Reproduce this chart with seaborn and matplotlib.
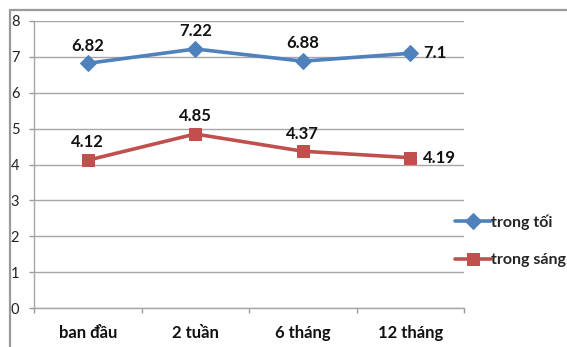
import matplotlib
matplotlib.use("Agg")
import matplotlib.pyplot as plt
from matplotlib.patches import Rectangle
import seaborn as sns
import pandas as pd

categories = ["ban đầu", "2 tuần", "6 tháng", "12 tháng"]
series_names = ["trong tối", "trong sáng"]
dark_values = [6.82, 7.22, 6.88, 7.1]
light_values = [4.12, 4.85, 4.37, 4.19]
y_ticks = [0, 1, 2, 3, 4, 5, 6, 7, 8]

colors = {"trong tối": "#4F81BD", "trong sáng": "#C0504D"}
markers = {"trong tối": "D", "trong sáng": "s"}

df = pd.DataFrame({
    "period": categories * 2,
    "value": dark_values + light_values,
    "series": [series_names[0]] * 4 + [series_names[1]] * 4,
})

sns.set_theme(style="white")
plt.rcParams["font.family"] = ["Lato", "DejaVu Sans"]

W, H = 567, 347
fig = plt.figure(figsize=(W / 100, H / 100), dpi=100)
ax = fig.add_axes([34 / W, 1 - 308 / H, (464 - 34) / W, (308 - 21) / H])

# outer chart frame
fig.patches.append(Rectangle((10 / W, -0.05), 1.1, 1 - 10 / H + 0.05,
                             transform=fig.transFigure, fill=False,
                             edgecolor="#9a9a9a", linewidth=1.6, zorder=0))

for name in series_names:
    sub = df[df["series"] == name]
    sns.lineplot(data=sub, x="period", y="value", ax=ax, color=colors[name],
                 marker=markers[name], markersize=8 if name == series_names[0] else 8.5,
                 markeredgecolor=colors[name], linewidth=2.6, label=name,
                 sort=False, zorder=3)

ax.set_xlim(-0.5, len(categories) - 0.5)
ax.set_ylim(0, 8)
ax.set_yticks(y_ticks)
ax.set_yticklabels([str(t) for t in y_ticks], fontsize=10.5, color="#222222")
ax.tick_params(axis="y", which="major", pad=7, length=3.6, color="#9a9a9a", width=1, left=True)

ax.set_xticks(range(len(categories)))
ax.set_xticklabels(categories, fontsize=12, fontweight="bold", color="#111111")
ax.tick_params(axis="x", length=0, pad=12)
# category boundary ticks
ax.set_xticks([i - 0.5 for i in range(len(categories) + 1)], minor=True)
ax.tick_params(axis="x", which="minor", length=3.6, color="#9a9a9a", width=1, bottom=True)

ax.grid(axis="y", color="#a6a6a6", linewidth=1)
ax.set_axisbelow(True)
for side in ["top", "right"]:
    ax.spines[side].set_visible(False)
for side in ["left", "bottom"]:
    ax.spines[side].set_color("#a6a6a6")
    ax.spines[side].set_linewidth(1)
ax.set_xlabel("")
ax.set_ylabel("")

# value labels
for vals in (dark_values, light_values):
    for i, v in enumerate(vals):
        if i == len(vals) - 1:
            ax.annotate(f"{v:g}", (i, v), xytext=(9, 0), textcoords="offset points",
                        ha="left", va="center", fontsize=12, fontweight="bold", color="#111111")
        else:
            ax.annotate(f"{v:g}", (i, v), xytext=(0, 7), textcoords="offset points",
                        ha="center", va="bottom", fontsize=12, fontweight="bold", color="#111111")

ax.get_legend().remove()
handles, labels = ax.get_legend_handles_labels()
leg = fig.legend(handles, labels, loc="center left",
                 bbox_to_anchor=(441 / W, 1 - 241 / H), frameon=False,
                 prop={"weight": "bold", "size": 11.5}, handlelength=2.2,
                 handletextpad=0.05, labelspacing=1.45)

fig.savefig("out.png", dpi=100)
